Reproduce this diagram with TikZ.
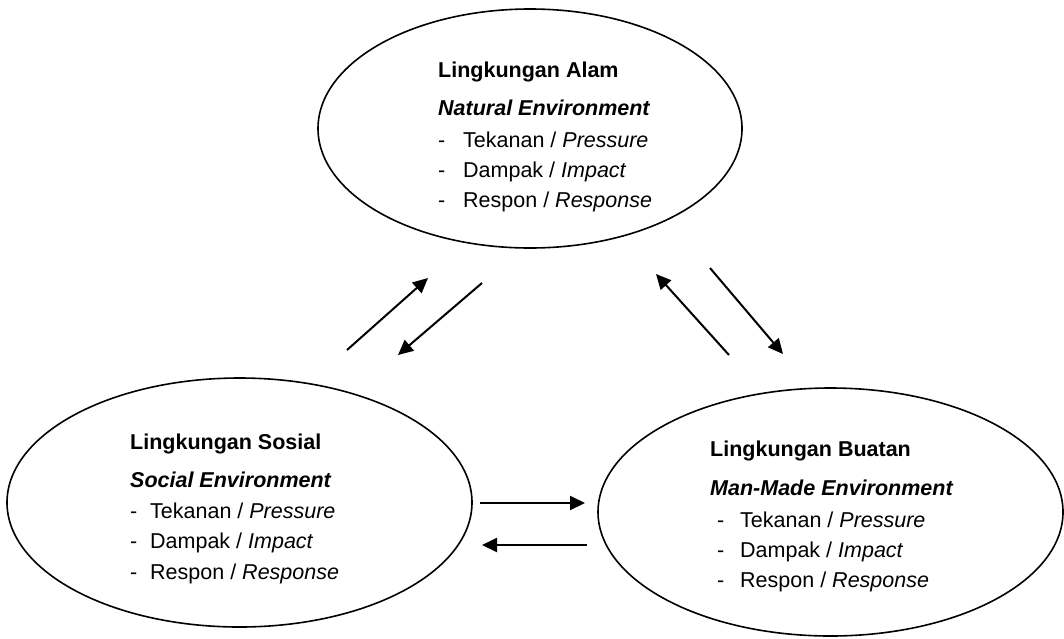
\documentclass[tikz,border=0pt]{standalone}
\usepackage{fontspec}
\setmainfont{Liberation Sans}
\usetikzlibrary{shapes.geometric,arrows.meta}
\begin{document}
\begin{tikzpicture}[x=1pt,y=-1pt,
  envbox/.style={ellipse,draw,line width=1.6pt,inner sep=0pt},
  txt/.style={anchor=base west,inner sep=0pt,font=\fontsize{21.5}{26}\selectfont},
  flow/.style={line width=2pt,-{Triangle[length=15pt,width=14pt]}}]
\useasboundingbox (0,0) rectangle (1064,638);
% ellipses
\node[envbox,minimum width=424pt,minimum height=239pt] (nat) at (530,128.5) {};
\node[envbox,minimum width=465pt,minimum height=249pt] (soc) at (239.5,502.5) {};
\node[envbox,minimum width=465pt,minimum height=248pt] (man) at (830.5,512) {};
% natural
\node[txt] (n1) at (438,77) {\bfseries Lingkungan Alam};
\node[txt] (n2) at (438,115) {\bfseries\itshape Natural Environment};
\node[txt] (n3) at (438,147) {\makebox[25pt][l]{-}Tekanan / \textit{Pressure}};
\node[txt] (n4) at (438,177) {\makebox[25pt][l]{-}Dampak / \textit{Impact}};
\node[txt] (n5) at (438,207) {\makebox[25pt][l]{-}Respon / \textit{Response}};
% social
\node[txt] (s1) at (130,449) {\bfseries Lingkungan Sosial};
\node[txt] (s2) at (130,487) {\bfseries\itshape Social Environment};
\node[txt] (s3) at (130,518) {\makebox[20pt][l]{-}Tekanan / \textit{Pressure}};
\node[txt] (s4) at (130,548) {\makebox[20pt][l]{-}Dampak / \textit{Impact}};
\node[txt] (s5) at (130,579) {\makebox[20pt][l]{-}Respon / \textit{Response}};
% man-made
\node[txt] (m1) at (710,456) {\bfseries Lingkungan Buatan};
\node[txt] (m2) at (710,495) {\bfseries\itshape Man-Made Environment};
\node[txt] (m3) at (717,527) {\makebox[23pt][l]{-}Tekanan / \textit{Pressure}};
\node[txt] (m4) at (717,557) {\makebox[23pt][l]{-}Dampak / \textit{Impact}};
\node[txt] (m5) at (717,587) {\makebox[23pt][l]{-}Respon / \textit{Response}};
% arrow end points
\coordinate (a1s) at (347,350); \coordinate (a1e) at (428,278);
\coordinate (a2s) at (482,283); \coordinate (a2e) at (398,355);
\coordinate (a3s) at (729,355); \coordinate (a3e) at (656,274);
\coordinate (a4s) at (710,268); \coordinate (a4e) at (783,354);
\coordinate (a5s) at (480,503); \coordinate (a5e) at (585,503);
\coordinate (a6s) at (587,545); \coordinate (a6e) at (482,545);
\draw[flow] (a1s) -- (a1e);
\draw[flow] (a2s) -- (a2e);
\draw[flow] (a3s) -- (a3e);
\draw[flow] (a4s) -- (a4e);
\draw[flow] (a5s) -- (a5e);
\draw[flow] (a6s) -- (a6e);
\end{tikzpicture}
\end{document}
